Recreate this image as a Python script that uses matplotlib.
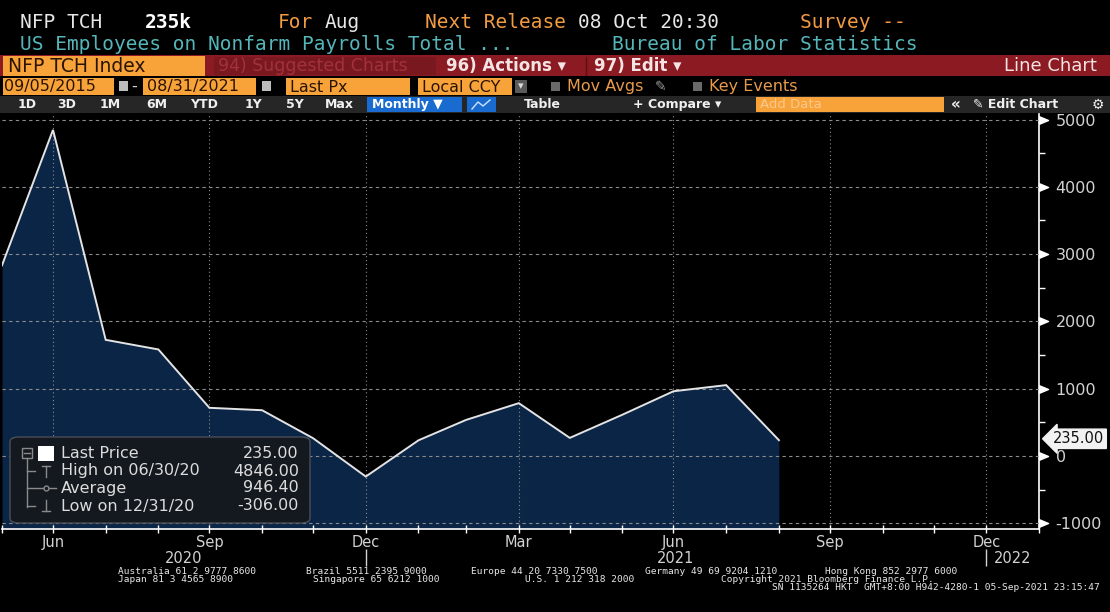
import numpy as np
import pandas as pd
import matplotlib
matplotlib.use("Agg")
import matplotlib.pyplot as plt
import matplotlib.dates as mdates
from matplotlib.patches import Rectangle, FancyBboxPatch
from matplotlib.lines import Line2D
from matplotlib.path import Path
from matplotlib.ticker import FixedLocator, NullFormatter

# ---------------- data ----------------
month_ends = ["2020-05-31", "2020-06-30", "2020-07-31", "2020-08-31", "2020-09-30",
              "2020-10-31", "2020-11-30", "2020-12-31", "2021-01-31", "2021-02-28",
              "2021-03-31", "2021-04-30", "2021-05-31", "2021-06-30", "2021-07-31",
              "2021-08-31"]
payrolls_k = [2833, 4846, 1726, 1583, 716, 680, 264, -306, 233, 536, 785, 269,
              614, 962, 1053, 235]
stats_start = 1          # legend statistics use Jun 2020 onward
y_ticks = [-1000, 0, 1000, 2000, 3000, 4000, 5000]
y_minor = [-500, 500, 1500, 2500, 3500, 4500]
x_major_dates = ["2020-06-30", "2020-09-30", "2020-12-31", "2021-03-31",
                 "2021-06-30", "2021-09-30", "2021-12-31"]
x_major_labels = ["Jun", "Sep", "Dec", "Mar", "Jun", "Sep", "Dec"]
year_labels = ["2020", "2021", "2022"]
year_bounds = ["2020-05-31", "2020-12-31", "2021-12-31", "2022-01-31"]
x_range = ["2020-05-31", "2022-01-31"]
y_range = [-1085, 5082]

# ---------------- figure ----------------
W, H = 1110, 612
fig = plt.figure(figsize=(W / 100, H / 100), dpi=100, facecolor="black")

MONO = "DejaVu Sans Mono"
SANS = "DejaVu Sans"
ORANGE_TXT = "#f29b45"
WHITE_TXT = "#e6e6e6"
TEAL = "#55b6ba"
RED_BAR = "#8c1a22"
ORANGE_BOX = "#f8a23a"


def fx(x):
    return x / W


def fy(y):
    return 1 - y / H


def rect(x0, y0, x1, y1, color, **kw):
    fig.patches.append(Rectangle((fx(x0), fy(y1)), (x1 - x0) / W, (y1 - y0) / H,
                                 transform=fig.transFigure, fc=color,
                                 ec=kw.pop("ec", "none"), **kw))


def txt(x, y, s, **kw):
    kw.setdefault("va", "center")
    return fig.text(fx(x), fy(y), s, **kw)


def line(xs, ys, **kw):
    fig.lines.append(Line2D([fx(v) for v in xs], [fy(v) for v in ys],
                            transform=fig.transFigure, **kw))


# ---------- header row 1 / 2 ----------
txt(20, 22, "NFP TCH", family=MONO, fontsize=14, color=WHITE_TXT)
txt(145, 22, "235k", family=MONO, fontsize=14, color="white", weight="bold")
txt(278, 22, "For", family=MONO, fontsize=14, color=ORANGE_TXT)
txt(325, 22, "Aug", family=MONO, fontsize=14, color=WHITE_TXT)
txt(425, 22, "Next Release", family=MONO, fontsize=14, color=ORANGE_TXT)
txt(578, 22, "08 Oct 20:30", family=MONO, fontsize=14, color=WHITE_TXT)
txt(800, 22, "Survey --", family=MONO, fontsize=14, color=ORANGE_TXT)
txt(20, 45, "US Employees on Nonfarm Payrolls Total ...", family=MONO,
    fontsize=14, color=TEAL)
txt(612, 45, "Bureau of Labor Statistics", family=MONO, fontsize=14, color=TEAL)

# ---------- header row 3 ----------
rect(0, 55, W, 76, RED_BAR)
rect(3, 56, 205, 76, ORANGE_BOX)
txt(8, 66, "NFP TCH Index", family=SANS, fontsize=13.5, color="#2a1400")
rect(214, 57, 436, 75, "#7a1820")
txt(218, 66, "94) Suggested Charts", family=SANS, fontsize=12.5, color="#a2323a")
txt(446, 66, "96) Actions \u25be", family=SANS, fontsize=12, color="#f4e4e4",
    weight="bold")
line([586, 586], [57, 75], color="#5c0f15", lw=1)
txt(594, 66, "97) Edit \u25be", family=SANS, fontsize=12, color="#f4e4e4",
    weight="bold")
txt(1097, 66, "Line Chart", family=SANS, fontsize=13, color="#f4e4e4", ha="right")

# ---------- header row 4 ----------
rect(3, 78, 114, 95, ORANGE_BOX)
txt(4, 87, "09/05/2015", family=SANS, fontsize=11.5, color="#2a1400")
rect(119, 81, 128, 91, "#bdbdbd")
txt(134, 86, "-", family=SANS, fontsize=11.5, color="#d0d0d0", ha="center")
rect(143, 78, 256, 95, ORANGE_BOX)
txt(147, 87, "08/31/2021", family=SANS, fontsize=11.5, color="#2a1400")
rect(262, 81, 271, 91, "#bdbdbd")
rect(286, 78, 410, 95, ORANGE_BOX)
txt(290, 87, "Last Px", family=SANS, fontsize=11.5, color="#2a1400")
rect(418, 78, 512, 95, ORANGE_BOX)
txt(422, 87, "Local CCY", family=SANS, fontsize=11.5, color="#2a1400")
rect(515, 80, 527, 93, "#5a5a5a")
txt(521, 86, "\u25be", family=SANS, fontsize=8, color="#dddddd", ha="center")
rect(551, 82, 560, 91, "#6a6a6a")
txt(567, 87, "Mov Avgs", family=SANS, fontsize=11.5, color="#e89a4c")
txt(655, 87, "\u270e", family=SANS, fontsize=10, color="#9a9a9a")
rect(693, 82, 702, 91, "#6a6a6a")
txt(709, 87, "Key Events", family=SANS, fontsize=11.5, color="#e89a4c")

# ---------- header row 5 (toolbar) ----------
rect(0, 96, W, 113, "#262626")
for lab, xpos in zip(["1D", "3D", "1M", "6M", "YTD", "1Y", "5Y", "Max"],
                     [18, 57, 100, 146, 190, 245, 286, 325]):
    txt(xpos, 104.5, lab, family=SANS, fontsize=9, color="#f0f0f0", weight="bold")
rect(367, 97, 462, 112, "#1a6bd0")
txt(372, 104.5, "Monthly \u25bc", family=SANS, fontsize=9, color="white",
    weight="bold")
rect(467, 97, 496, 112, "#1a6bd0")
line([472, 478, 483, 490], [109, 102, 106, 100], color="#cfe3ff", lw=1)
txt(524, 104.5, "Table", family=SANS, fontsize=9, color="#f0f0f0", weight="bold")
txt(633, 104.5, "+ Compare \u25be", family=SANS, fontsize=9, color="#f0f0f0",
    weight="bold")
rect(756, 97, 944, 112, ORANGE_BOX)
txt(760, 104.5, "Add Data", family=SANS, fontsize=9.5, color="#fcc98c")
txt(951, 104.5, "\u00ab", family=SANS, fontsize=11, color="#f0f0f0", weight="bold")
txt(973, 104.5, "\u270e Edit Chart", family=SANS, fontsize=9, color="#f0f0f0",
    weight="bold")
txt(1092, 104.5, "\u2699", family=SANS, fontsize=10, color="#f0f0f0")

# ---------------- chart ----------------
ax = fig.add_axes([fx(2), fy(529), (1039 - 2) / W, (529 - 114) / H])
ax.set_facecolor("black")

dates = pd.to_datetime(month_ends)
vals = np.array(payrolls_k, dtype=float)

ax.fill_between(dates, vals, y_range[0], color="#0b2546", lw=0, zorder=1)
ax.plot(dates, vals, color="#e4e4e4", lw=1.4, zorder=3, solid_joinstyle="miter")

ax.set_xlim(pd.to_datetime(x_range[0]), pd.to_datetime(x_range[1]))
ax.set_ylim(*y_range)

# x axis
ax.xaxis.set_major_locator(FixedLocator(mdates.date2num(pd.to_datetime(x_major_dates))))
ax.xaxis.set_major_formatter(plt.FixedFormatter(x_major_labels))
minor_dates = pd.date_range(x_range[0], x_range[1], freq="ME")
ax.xaxis.set_minor_locator(FixedLocator(mdates.date2num(minor_dates)))
ax.xaxis.set_minor_formatter(NullFormatter())
ax.tick_params(axis="x", which="both", direction="inout", length=6, width=1,
               color="white", labelcolor="#d2d2d2", labelsize=10.5, pad=1)
for lab in ax.get_xticklabels():
    lab.set_family(SANS)

# y axis on right
ax.yaxis.tick_right()
ax.set_yticks(y_ticks)
ax.set_yticklabels([str(v) for v in y_ticks])
ax.set_yticks(y_minor, minor=True)
ax.tick_params(axis="y", which="major", length=0, pad=12,
               labelcolor="#d2d2d2", labelsize=11.5)
ax.tick_params(axis="y", which="minor", length=4, width=1, color="white",
               direction="out")

# flags at major y ticks
flag = Path([(0, -1), (0, 1), (2.4, 0), (0, -1)])
ax.plot(np.ones(len(y_ticks)), y_ticks, ls="none", marker=flag, ms=13,
        mfc="white", mec="white", transform=ax.get_yaxis_transform(),
        clip_on=False, zorder=5)

for side in ["top", "left"]:
    ax.spines[side].set_visible(False)
for side in ["right", "bottom"]:
    ax.spines[side].set_color("white")
    ax.spines[side].set_linewidth(1.2)

ax.set_axisbelow(False)
ax.grid(axis="y", which="major", color="#8c8c8c", lw=0.8, ls=(0, (3, 3)))
ax.grid(axis="x", which="major", color="#8c8c8c", lw=0.8, ls=(0, (1, 2.5)))

# year labels and separators
yb = pd.to_datetime(year_bounds)
xt = ax.get_xaxis_transform()
for i, ylab in enumerate(year_labels):
    mid = yb[i] + (yb[i + 1] - yb[i]) / 2
    ax.text(mid, -0.070, ylab, transform=xt, ha="center", va="center",
            fontsize=10.5, color="#d2d2d2", family=SANS)
ax.vlines(yb[1:-1], -0.048, -0.090, transform=xt, color="#d2d2d2", lw=1,
          clip_on=False)

# last value tag
last = vals[-1]
ax.annotate(f"{last:.2f}", xy=(1.0, last), xycoords=ax.get_yaxis_transform(),
            xytext=(10, 1), textcoords="offset points", ha="left", va="center",
            fontsize=10.5, color="#111111", family=SANS, annotation_clip=False,
            bbox=dict(boxstyle="larrow,pad=0.15", fc="#f2f2f2", ec="#f2f2f2"),
            zorder=6)

# ---------------- legend box ----------------
stats = vals[stats_start:]
sdates = dates[stats_start:]
i_hi = int(np.argmax(stats))
i_lo = int(np.argmin(stats))
leg = FancyBboxPatch((fx(10), fy(523)), 300 / W, 86 / H,
                     boxstyle="round,pad=0,rounding_size=0.008",
                     transform=fig.transFigure, fc="#141920", ec="#4a4f57",
                     lw=1, zorder=8)
fig.patches.append(leg)

rows_y = [453, 471, 488, 506]
labels = ["Last Price",
          f"High on {sdates[i_hi]:%m/%d/%y}",
          "Average",
          f"Low on {sdates[i_lo]:%m/%d/%y}"]
numbers = [f"{last:.2f}", f"{stats[i_hi]:.2f}", f"{stats.mean():.2f}",
           f"{stats[i_lo]:.2f}"]
for ry, lab, num in zip(rows_y, labels, numbers):
    txt(61, ry, lab, family=SANS, fontsize=11.5, color="#dcdcdc", zorder=9)
    txt(299, ry, num, family=SANS, fontsize=11.5, color="#dcdcdc", ha="right",
        zorder=9)

# tree icons
gray = "#8a8a8a"
rect(22, 448, 32, 458, "none", ec=gray, lw=1, zorder=9)
line([24, 30], [453, 453], color=gray, lw=1, zorder=9)
rect(38, 446, 54, 461, "white", zorder=9)
line([27, 27], [458, 507], color=gray, lw=1, zorder=9)
for ry in rows_y[1:]:
    line([27, 35], [ry, ry], color=gray, lw=1, zorder=9)
line([46, 46], [rows_y[1] - 5, rows_y[1] + 6], color=gray, lw=1, zorder=9)
line([42, 50], [rows_y[1] - 5, rows_y[1] - 5], color=gray, lw=1, zorder=9)
line([36, 56], [rows_y[2], rows_y[2]], color=gray, lw=1, zorder=9)
line([46], [rows_y[2]], marker="o", ms=3.5, mfc="#141920", mec=gray, zorder=10)
line([46, 46], [rows_y[3] - 6, rows_y[3] + 5], color=gray, lw=1, zorder=9)
line([42, 50], [rows_y[3] + 5, rows_y[3] + 5], color=gray, lw=1, zorder=9)

# ---------------- footer ----------------
foot = [
    (118, 571, "Australia 61 2 9777 8600"),
    (306, 571, "Brazil 5511 2395 9000"),
    (471, 571, "Europe 44 20 7330 7500"),
    (645, 571, "Germany 49 69 9204 1210"),
    (825, 571, "Hong Kong 852 2977 6000"),
    (118, 579.5, "Japan 81 3 4565 8900"),
    (313, 579.5, "Singapore 65 6212 1000"),
    (525, 579.5, "U.S. 1 212 318 2000"),
    (721, 579.5, "Copyright 2021 Bloomberg Finance L.P."),
]
for x, y, s in foot:
    txt(x, y, s, family=MONO, fontsize=6.8, color="#e8e8e8")
txt(1100, 588, "SN 1135264 HKT  GMT+8:00 H942-4280-1 05-Sep-2021 23:15:47",
    family=MONO, fontsize=6.8, color="#e8e8e8", ha="right")

fig.savefig("out.png", dpi=100, facecolor="black")
